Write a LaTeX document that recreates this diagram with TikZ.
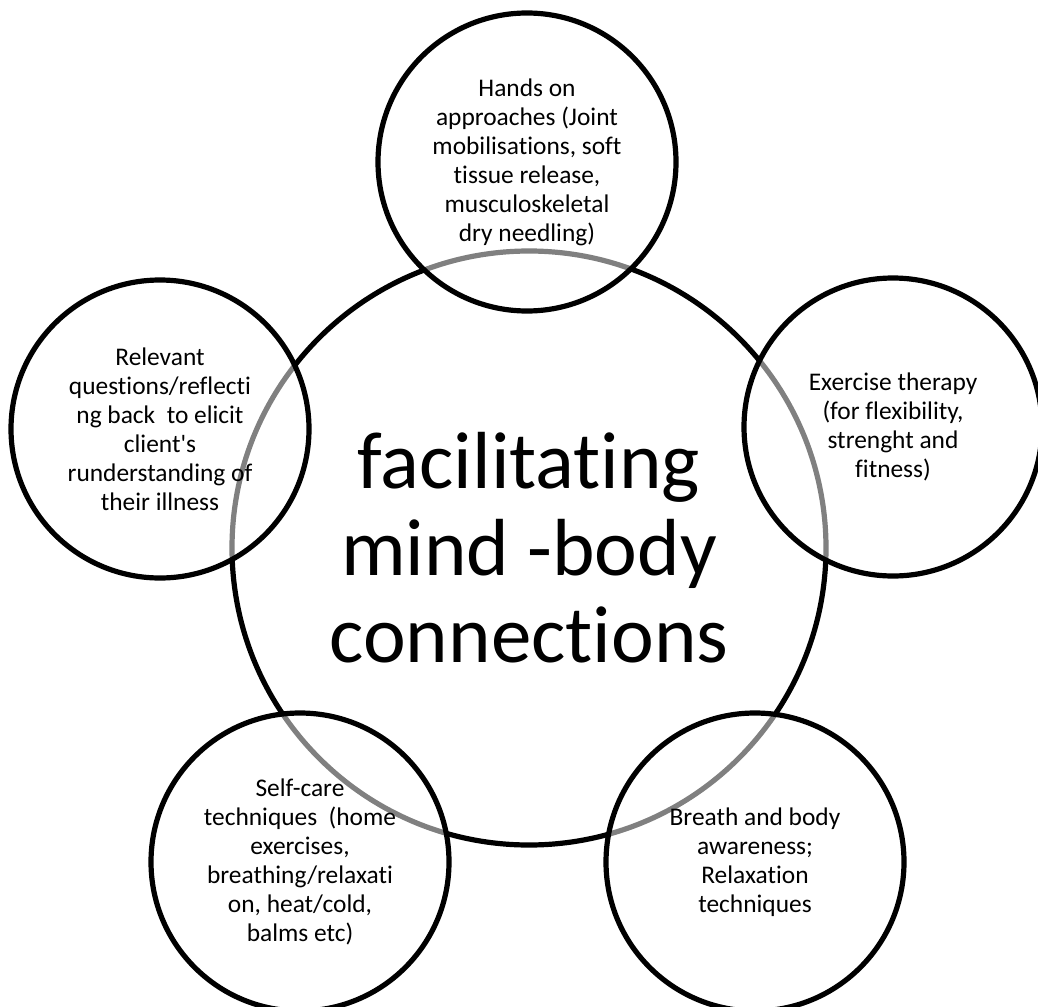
\documentclass[tikz,border=0pt]{standalone}
\usepackage{fontspec}
\setmainfont{Carlito}[Ligatures={TeX,NoCommon}]
\usetikzlibrary{positioning}

\begin{document}
\begin{tikzpicture}[x=0.5pt, y=-0.5pt,
		hub/.style={circle, draw=black, line width=2.6pt, minimum size=297pt, inner sep=0pt, align=center, font=\fontsize{40.5}{43.5}\selectfont},
		spoke/.style={circle, draw=black, line width=2.6pt, fill=white, fill opacity=0.5, text opacity=1, minimum size=149pt, inner sep=0pt, align=center, font=\fontsize{12.7}{14.5}\selectfont}]
		% Frame
		\useasboundingbox (0,0) rectangle (1038,1006);
		
		% Definitions
		\coordinate (Hub) at (529,548);
		\coordinate (Top) at (527,162);
		\coordinate (Left) at (160,429);
		\coordinate (Right) at (893,427);
		\coordinate (BotL) at (300,862);
		\coordinate (BotR) at (755,862);
		
		% Central circle
		\node[hub] (hub) at (Hub) {facilitating\\mind -body\\connections};
		
		% Outer circles
		\node[spoke] (hands) at (Top) {Hands on\\approaches (Joint\\mobilisations, soft\\tissue release,\\musculoskeletal\\dry needling)};
		\node[spoke] (questions) at (Left) {Relevant\\questions/reflecti\\ng back\ \ to elicit\\client\textquotesingle s\\runderstanding of\\their illness};
		\node[spoke] (exercise) at (Right) {Exercise therapy\\(for flexibility,\\strenght and\\fitness)};
		\node[spoke] (selfcare) at (BotL) {Self-care\\techniques\ \ (home\\exercises,\\breathing/relaxati\\on, heat/cold,\\balms etc)};
		\node[spoke] (breath) at (BotR) {Breath and body\\awareness;\\Relaxation\\techniques};
	\end{tikzpicture}
\end{document}
